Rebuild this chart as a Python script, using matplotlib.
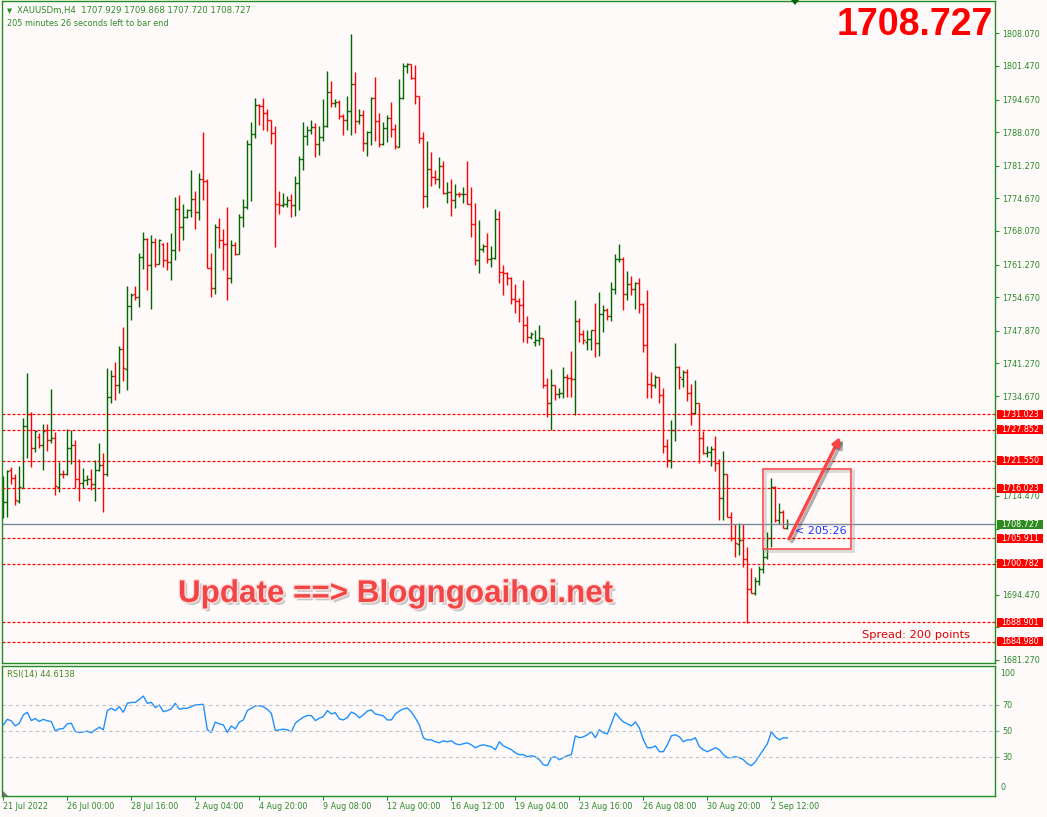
import matplotlib
matplotlib.use("Agg")
import matplotlib.pyplot as plt
import matplotlib.patheffects as pe
from matplotlib.patches import Rectangle, Polygon
import numpy as np

# XAUUSDm H4 bars (open, high, low, close)
opens = [1712.3, 1713.3, 1719.7, 1718.0, 1713.5, 1716.1, 1728.6, 1731.0, 1724.1, 1726.3,
         1724.8, 1727.9, 1725.8, 1726.1, 1716.3, 1719.0, 1719.0, 1724.1, 1724.8, 1717.8,
         1717.0, 1717.6, 1717.8, 1716.9, 1719.8, 1720.7, 1718.8, 1734.4, 1738.7, 1736.9,
         1744.1, 1740.1, 1752.9, 1755.3, 1754.8, 1762.8, 1766.4, 1761.2, 1765.9, 1761.4,
         1765.4, 1762.2, 1761.8, 1764.3, 1772.6, 1768.8, 1770.8, 1772.3, 1774.6, 1771.9,
         1778.6, 1778.1, 1760.6, 1756.6, 1768.8, 1766.2, 1765.5, 1758.5, 1765.2, 1763.5,
         1770.8, 1773.0, 1785.6, 1787.7, 1793.5, 1793.3, 1792.0, 1790.5, 1787.8, 1773.5,
         1773.3, 1773.6, 1774.4, 1773.3, 1777.7, 1782.7, 1787.2, 1788.5, 1789.1, 1785.6,
         1787.0, 1789.4, 1796.1, 1794.0, 1794.2, 1791.3, 1790.5, 1792.3, 1797.9, 1790.3,
         1791.6, 1785.8, 1788.0, 1794.9, 1790.3, 1785.6, 1789.0, 1791.0, 1788.8, 1785.1,
         1794.9, 1801.4, 1801.8, 1799.1, 1795.3, 1786.8, 1775.1, 1780.7, 1779.0, 1778.5,
         1781.2, 1775.8, 1775.9, 1774.3, 1775.6, 1775.5, 1775.6, 1773.5, 1769.4, 1762.2,
         1764.4, 1765.0, 1762.3, 1762.6, 1770.4, 1759.7, 1759.6, 1758.5, 1754.3, 1753.9,
         1753.0, 1749.0, 1746.7, 1745.7, 1746.0, 1746.5, 1736.9, 1733.3, 1736.9, 1735.0,
         1735.2, 1738.6, 1738.4, 1738.1, 1749.9, 1747.2, 1745.6, 1746.3, 1748.0, 1745.5,
         1751.3, 1752.0, 1750.8, 1756.4, 1762.3, 1762.5, 1755.4, 1757.3, 1756.4, 1757.5,
         1753.3, 1745.0, 1737.1, 1736.9, 1738.5, 1734.9, 1724.6, 1721.7, 1727.8, 1740.6,
         1738.2, 1739.6, 1735.2, 1731.2, 1733.2, 1726.1, 1723.2, 1723.4, 1723.9, 1721.1,
         1714.1, 1718.9, 1710.1, 1705.9, 1704.7, 1705.5, 1701.8, 1695.6, 1694.9, 1697.3,
         1699.6, 1702.2, 1705.9, 1716.3, 1709.5, 1711.3, 1707.929]
highs = [1718.4, 1719.8, 1720.3, 1719.0, 1720.5, 1730.2, 1739.3, 1731.5, 1727.8, 1727.1,
         1729.0, 1729.1, 1736.0, 1727.3, 1721.4, 1719.8, 1728.1, 1727.9, 1725.8, 1721.9,
         1720.2, 1718.7, 1720.0, 1721.7, 1725.1, 1723.1, 1740.3, 1739.9, 1741.6, 1744.8,
         1748.7, 1756.9, 1755.6, 1756.9, 1763.7, 1767.9, 1766.6, 1767.2, 1766.6, 1766.4,
         1765.6, 1765.9, 1767.6, 1775.0, 1775.3, 1773.5, 1772.6, 1780.4, 1776.2, 1779.7,
         1788.1, 1778.5, 1763.6, 1769.5, 1770.6, 1768.4, 1773.0, 1766.2, 1765.9, 1771.5,
         1774.6, 1786.4, 1790.1, 1794.9, 1793.7, 1794.9, 1792.8, 1790.6, 1789.3, 1776.1,
         1775.8, 1775.1, 1775.5, 1779.2, 1783.2, 1790.1, 1789.3, 1790.6, 1789.9, 1789.3,
         1794.7, 1800.4, 1798.4, 1794.7, 1794.5, 1791.7, 1795.3, 1807.9, 1800.2, 1792.8,
         1792.5, 1788.3, 1795.2, 1799.2, 1792.0, 1790.1, 1791.5, 1794.2, 1789.7, 1798.8,
         1802.1, 1802.1, 1801.9, 1801.7, 1795.3, 1788.1, 1786.3, 1784.1, 1780.4, 1783.1,
         1782.3, 1778.0, 1778.6, 1777.5, 1776.0, 1776.9, 1782.3, 1777.0, 1773.8, 1770.3,
         1765.5, 1767.7, 1765.0, 1772.5, 1772.1, 1761.2, 1759.8, 1758.7, 1757.3, 1754.6,
         1758.1, 1750.8, 1747.7, 1748.1, 1749.0, 1746.5, 1738.4, 1740.1, 1736.9, 1736.2,
         1740.6, 1739.1, 1743.8, 1754.1, 1750.4, 1748.0, 1748.0, 1748.1, 1753.5, 1755.8,
         1753.1, 1752.4, 1757.8, 1763.5, 1765.4, 1762.8, 1759.9, 1758.9, 1757.8, 1758.5,
         1753.4, 1756.1, 1739.6, 1738.9, 1738.6, 1736.4, 1725.9, 1729.8, 1745.5, 1740.7,
         1739.9, 1740.1, 1737.1, 1737.9, 1733.3, 1727.5, 1724.6, 1724.6, 1726.6, 1721.9,
         1723.6, 1719.0, 1711.3, 1708.8, 1708.9, 1708.8, 1704.1, 1699.8, 1698.1, 1700.3,
         1703.9, 1707.2, 1718.0, 1716.5, 1713.0, 1711.6, 1709.868]
lows = [1709.9, 1710.3, 1716.9, 1712.6, 1713.1, 1716.0, 1722.1, 1720.4, 1723.4, 1724.1,
        1719.7, 1723.6, 1725.2, 1714.7, 1715.3, 1718.0, 1718.7, 1720.9, 1716.0, 1713.5,
        1716.0, 1716.7, 1715.7, 1713.5, 1719.6, 1711.3, 1718.4, 1733.2, 1733.9, 1735.3,
        1737.8, 1735.9, 1750.0, 1754.2, 1752.6, 1760.3, 1756.1, 1752.2, 1760.8, 1761.3,
        1760.7, 1760.2, 1758.1, 1762.2, 1764.1, 1766.2, 1770.6, 1770.8, 1768.4, 1770.3,
        1774.3, 1760.5, 1754.8, 1755.3, 1764.7, 1760.2, 1754.1, 1757.5, 1763.2, 1763.4,
        1768.9, 1772.6, 1774.2, 1786.8, 1789.5, 1788.6, 1788.3, 1785.6, 1764.9, 1771.5,
        1773.0, 1773.0, 1770.9, 1771.1, 1772.3, 1780.4, 1785.4, 1787.6, 1783.1, 1783.4,
        1786.3, 1789.1, 1793.2, 1793.2, 1790.8, 1787.4, 1788.5, 1787.4, 1787.9, 1789.8,
        1784.3, 1783.2, 1785.4, 1786.3, 1785.0, 1785.4, 1786.1, 1787.1, 1784.7, 1785.0,
        1794.8, 1800.0, 1798.9, 1793.7, 1785.9, 1772.8, 1773.0, 1777.1, 1777.5, 1776.7,
        1775.5, 1773.8, 1771.1, 1772.8, 1775.0, 1773.8, 1773.5, 1766.9, 1761.2, 1759.6,
        1763.9, 1761.6, 1760.8, 1762.5, 1757.6, 1755.1, 1757.1, 1753.3, 1751.5, 1749.7,
        1745.7, 1745.5, 1746.3, 1744.8, 1745.0, 1736.2, 1730.4, 1727.8, 1733.9, 1734.2,
        1734.2, 1734.5, 1734.5, 1730.8, 1745.7, 1745.3, 1744.0, 1744.0, 1742.5, 1742.8,
        1747.7, 1750.0, 1749.9, 1755.4, 1761.7, 1752.1, 1754.1, 1755.1, 1752.2, 1751.4,
        1743.6, 1734.2, 1734.2, 1736.4, 1733.2, 1723.2, 1720.4, 1720.2, 1725.6, 1736.0,
        1736.6, 1733.7, 1728.8, 1731.0, 1721.1, 1722.9, 1722.4, 1720.5, 1719.6, 1709.5,
        1709.6, 1710.1, 1705.4, 1702.2, 1702.5, 1700.0, 1688.7, 1694.8, 1694.4, 1696.5,
        1698.8, 1701.8, 1704.1, 1709.1, 1708.8, 1707.9, 1707.720]
closes = [1713.2, 1719.6, 1718.0, 1713.6, 1716.2, 1728.6, 1731.0, 1724.1, 1727.7, 1724.8,
          1727.7, 1725.8, 1726.1, 1716.5, 1719.0, 1718.9, 1724.1, 1724.8, 1717.8, 1717.0,
          1717.6, 1717.8, 1716.9, 1719.8, 1720.7, 1718.8, 1734.4, 1738.7, 1736.9, 1744.1,
          1740.3, 1752.9, 1755.1, 1754.8, 1762.8, 1766.4, 1761.2, 1765.9, 1761.4, 1766.2,
          1762.2, 1761.8, 1764.3, 1772.6, 1768.8, 1770.8, 1772.3, 1774.6, 1771.9, 1778.6,
          1778.1, 1760.6, 1756.6, 1768.8, 1766.2, 1765.5, 1758.5, 1765.2, 1763.5, 1770.8,
          1773.0, 1785.6, 1787.7, 1793.5, 1793.3, 1792.0, 1790.5, 1787.8, 1773.5, 1773.3,
          1773.6, 1774.4, 1773.3, 1777.7, 1782.7, 1787.2, 1788.5, 1789.1, 1785.6, 1787.0,
          1789.4, 1796.1, 1794.0, 1794.2, 1791.3, 1790.5, 1792.3, 1797.9, 1790.3, 1791.6,
          1785.8, 1788.0, 1794.9, 1790.3, 1785.6, 1789.0, 1791.0, 1788.8, 1785.3, 1794.9,
          1801.4, 1801.8, 1799.1, 1795.3, 1786.8, 1775.1, 1780.7, 1779.0, 1778.5, 1781.2,
          1775.8, 1775.9, 1774.3, 1775.6, 1775.5, 1775.6, 1773.5, 1769.4, 1762.2, 1764.4,
          1765.0, 1762.3, 1762.6, 1770.4, 1759.7, 1759.6, 1758.5, 1754.3, 1753.9, 1753.0,
          1749.0, 1746.7, 1747.3, 1746.0, 1746.5, 1736.9, 1733.3, 1736.9, 1735.0, 1735.2,
          1738.6, 1738.4, 1738.1, 1749.9, 1747.2, 1746.0, 1746.3, 1748.0, 1745.5, 1751.3,
          1752.0, 1750.8, 1756.4, 1762.3, 1762.5, 1755.4, 1757.3, 1756.4, 1757.5, 1753.3,
          1745.0, 1737.1, 1736.9, 1738.6, 1734.9, 1724.6, 1721.7, 1727.8, 1740.6, 1738.5,
          1739.6, 1735.2, 1731.2, 1733.2, 1726.1, 1723.2, 1723.4, 1723.9, 1721.1, 1714.1,
          1718.9, 1710.1, 1705.9, 1704.9, 1705.5, 1701.8, 1695.6, 1694.9, 1697.3, 1699.6,
          1702.2, 1705.9, 1716.3, 1709.5, 1711.3, 1708.0, 1708.727]

# RSI(14) values per bar
rsi = [54.7, 59.0, 57.8, 53.9, 56.0, 62.4, 64.4, 58.0, 59.6, 57.3,
       59.0, 57.8, 57.3, 50.1, 51.6, 51.9, 55.5, 56.0, 49.6, 48.9,
       49.3, 49.9, 48.6, 50.9, 52.9, 50.9, 65.7, 67.5, 65.7, 68.7,
       64.4, 71.3, 72.0, 72.0, 74.3, 76.9, 71.3, 72.0, 68.0, 70.0,
       64.9, 65.7, 67.0, 71.3, 66.7, 67.5, 67.5, 68.7, 70.0, 70.3,
       70.5, 50.9, 48.9, 56.8, 55.5, 54.7, 48.9, 53.9, 51.6, 56.8,
       58.5, 65.7, 67.5, 69.3, 69.5, 68.7, 66.7, 63.6, 50.4, 50.9,
       51.4, 50.9, 49.3, 56.0, 58.5, 60.6, 61.9, 61.9, 58.0, 59.8,
       61.1, 65.7, 63.1, 64.1, 59.3, 58.5, 60.3, 64.6, 63.1, 60.1,
       62.4, 65.4, 66.2, 63.1, 62.4, 61.6, 58.5, 58.5, 63.1, 65.4,
       66.9, 67.7, 64.6, 60.1, 54.7, 44.8, 43.2, 43.2, 41.7, 40.9,
       42.5, 41.7, 42.5, 40.2, 39.4, 40.2, 40.9, 39.4, 37.1, 38.6,
       39.4, 38.6, 37.9, 35.6, 41.7, 38.6, 37.1, 35.6, 33.3, 31.8,
       31.8, 30.2, 31.0, 30.2, 27.9, 24.1, 23.3, 29.5, 30.2, 27.9,
       29.5, 31.0, 31.8, 46.3, 44.8, 45.5, 47.1, 49.4, 44.8, 50.9,
       48.6, 47.8, 55.5, 63.9, 60.1, 57.0, 55.5, 53.9, 57.0, 52.4,
       43.2, 37.1, 37.1, 38.6, 34.1, 34.1, 39.4, 46.3, 47.1, 45.5,
       41.7, 43.2, 43.2, 44.8, 37.9, 35.6, 34.1, 35.6, 37.1, 35.6,
       31.8, 29.5, 29.5, 30.2, 29.5, 27.9, 24.9, 23.3, 26.4, 31.0,
       35.6, 40.2, 49.4, 45.5, 43.2, 44.8, 44.6138]

time_labels = ['21 Jul 2022', '26 Jul 00:00', '28 Jul 16:00', '2 Aug 04:00', '4 Aug 20:00',
               '9 Aug 08:00', '12 Aug 00:00', '16 Aug 12:00', '19 Aug 04:00', '23 Aug 16:00',
               '26 Aug 08:00', '30 Aug 20:00', '2 Sep 12:00']
price_ticks = [1808.07, 1801.47, 1794.67, 1788.07, 1781.27, 1774.67, 1768.07, 1761.27,
               1754.67, 1747.87, 1741.27, 1734.67, 1728.07, 1721.27, 1714.47, 1707.87,
               1701.27, 1694.47, 1687.87, 1681.27]
# scale labels that sit under the line labels on the screenshot
hidden_ticks = [1728.07, 1721.27, 1707.87, 1701.27, 1687.87]
levels = [1731.023, 1727.852, 1721.550, 1716.023, 1705.911, 1700.782, 1688.901, 1684.980]
last_price = 1708.727

W, H = 1047, 817
BG = '#fffafa'
FRAME = '#228b22'
TXT = '#2a8a2a'
UP = '#006400'
DOWN = '#ff0000'

plt.rcParams['font.family'] = ['DejaVu Sans']


def fx(px):
    return px / W


def fy(py):
    return 1 - py / H


fig = plt.figure(figsize=(W / 100, H / 100), dpi=100, facecolor=BG)
ax = fig.add_axes([fx(2), fy(663.3), fx(995) - fx(2), fy(1) - fy(663.3)], facecolor=BG)
ax2 = fig.add_axes([fx(2), fy(796), fx(995) - fx(2), fy(666) - fy(796)], facecolor=BG, sharex=ax)

# --- price bars ---
x = np.arange(len(closes))
cols = [UP if c >= o else DOWN for o, c in zip(opens, closes)]
ax.vlines(x, lows, highs, colors=cols, lw=1.0)
ax.hlines(opens, x - 0.5, x, colors=cols, lw=1.0)
ax.hlines(closes, x, x + 0.5, colors=cols, lw=1.0)

for lv in levels:
    ax.axhline(lv, color='red', lw=0.9, ls=(0, (2.4, 1.6)))
ax.axhline(last_price, color='#778899', lw=1.0)

ax.set_xlim(-0.325, 247.9)
ax.set_ylim(1680.6, 1814.6)

ax.yaxis.tick_right()
ax.set_yticks(price_ticks)
ax.set_yticklabels(['' if p in hidden_ticks else f'{p:.3f}' for p in price_ticks])
ax.tick_params(axis='y', colors=TXT, labelsize=5.8, length=3, width=0.8, pad=2)
ax.tick_params(axis='x', bottom=False, labelbottom=False)

# price labels on the axis
ytr = ax.get_yaxis_transform()
for lv in levels:
    ax.add_patch(Rectangle((1.0017, lv - 0.91), 0.047, 1.82, transform=ytr, fc='#ff0000',
                           ec='none', clip_on=False, zorder=5))
    ax.text(1.0252, lv, f'{lv:.3f}', transform=ytr, color='white', fontsize=5.8,
            ha='center', va='center', clip_on=False, zorder=6)
ax.add_patch(Rectangle((1.0017, last_price - 0.91), 0.047, 1.82, transform=ytr, fc='#2e8b22',
                       ec='none', clip_on=False, zorder=5))
ax.text(1.0252, last_price, f'{last_price:.3f}', transform=ytr, color='white', fontsize=5.8,
        ha='center', va='center', clip_on=False, zorder=6)

# box + arrow drawn on the chart
ax.add_patch(Rectangle((190.5, 1703.3), 21.85, 16.12, fill=False, ec='#b0b0b0', lw=2.0,
                       alpha=0.45, zorder=6))
ax.add_patch(Rectangle((190.0, 1703.73), 21.85, 16.12, fill=False, ec='#ff4a4a', lw=1.2, zorder=7))
ax.annotate('', xy=(209.2, 1726.4), xytext=(196.4, 1705.75),
            arrowprops=dict(arrowstyle='-|>', color='#ff4444', lw=2.4, mutation_scale=11,
                            shrinkA=0, shrinkB=0,
                            path_effects=[pe.SimpleLineShadow(offset=(2, -2), alpha=0.3), pe.Normal()]),
            zorder=8)
ax.text(197.9, 1707.4, '< 205:26', color='#2233ff', fontsize=8, ha='left', va='center', zorder=8)
ax.text(214.7, 1686.3, 'Spread: 200 points', color='#e00000', fontsize=8.2, ha='left',
        va='center', zorder=8)

for s in ax.spines.values():
    s.set_color(FRAME)
    s.set_linewidth(1.0)

# --- RSI panel ---
ax2.plot(x, rsi, color='#1e90ff', lw=1.0)
for lv in (70, 50, 30):
    ax2.axhline(lv, color='#c0c0c0', lw=0.8, ls=(0, (3, 3)))
ax2.set_ylim(0, 100)
ax2.yaxis.tick_right()
ax2.set_yticks([30, 50, 70])
ax2.set_yticklabels(['30', '50', '70'])
ax2.tick_params(axis='y', color='#a0a0a0', labelcolor=TXT, labelsize=5.8, length=3, width=0.8, pad=2)
y2tr = ax2.get_yaxis_transform()
ax2.text(1.0056, 94.6, '100', transform=y2tr, color=TXT, fontsize=5.8, va='center', ha='left')
ax2.text(1.0056, 6.2, '0', transform=y2tr, color=TXT, fontsize=5.8, va='center', ha='left')

ax2.set_xticks(range(0, 16 * len(time_labels), 16))
ax2.set_xticklabels(time_labels)
ax2.tick_params(axis='x', color=FRAME, labelcolor=TXT, labelsize=5.8, length=3, width=0.8, pad=1.5)
for lbl in ax2.get_xticklabels():
    lbl.set_ha('left')
for s in ax2.spines.values():
    s.set_color(FRAME)
    s.set_linewidth(1.0)

# --- header / overlay text ---
fig.text(fx(6.5), fy(10.7), '\u25bc', color=FRAME, fontsize=4.8, va='center')
fig.text(fx(17.3), fy(10.7), 'XAUUSDm,H4  1707.929 1709.868 1707.720 1708.727', color=TXT,
         fontsize=6.1, va='center')
fig.text(fx(7.3), fy(24), '205 minutes 26 seconds left to bar end', color=TXT, fontsize=5.9,
         va='center')
fig.text(fx(7.3), fy(675), 'RSI(14) 44.6138', color='#4a8a20', fontsize=6.0, va='center')

fig.text(fx(993), fy(25), '1708.727', color='#ff0000', fontsize=27, fontweight='bold',
         family='Liberation Sans', ha='right', va='center')

fig.text(fx(178), fy(594), 'Update ==> Blogngoaihoi.net', color='#f24545', fontsize=22.6,
         fontweight='bold', family='Liberation Sans', ha='left', va='center',
         path_effects=[pe.withSimplePatchShadow(offset=(2, -2), shadow_rgbFace='#888888', alpha=0.45),
                       pe.withStroke(linewidth=2, foreground='#ffe0e0')])

# chart shift markers
fig.patches.append(Polygon([[fx(791), fy(0)], [fx(799), fy(0)], [fx(795), fy(5)]],
                           closed=True, fc=UP, ec='none', transform=fig.transFigure))
fig.patches.append(Polygon([[fx(3), fy(796)], [fx(3), fy(791)], [fx(8), fy(796)]],
                           closed=True, fc='#707070', ec='none', transform=fig.transFigure))

fig.savefig('out.png', dpi=100, facecolor=BG)
